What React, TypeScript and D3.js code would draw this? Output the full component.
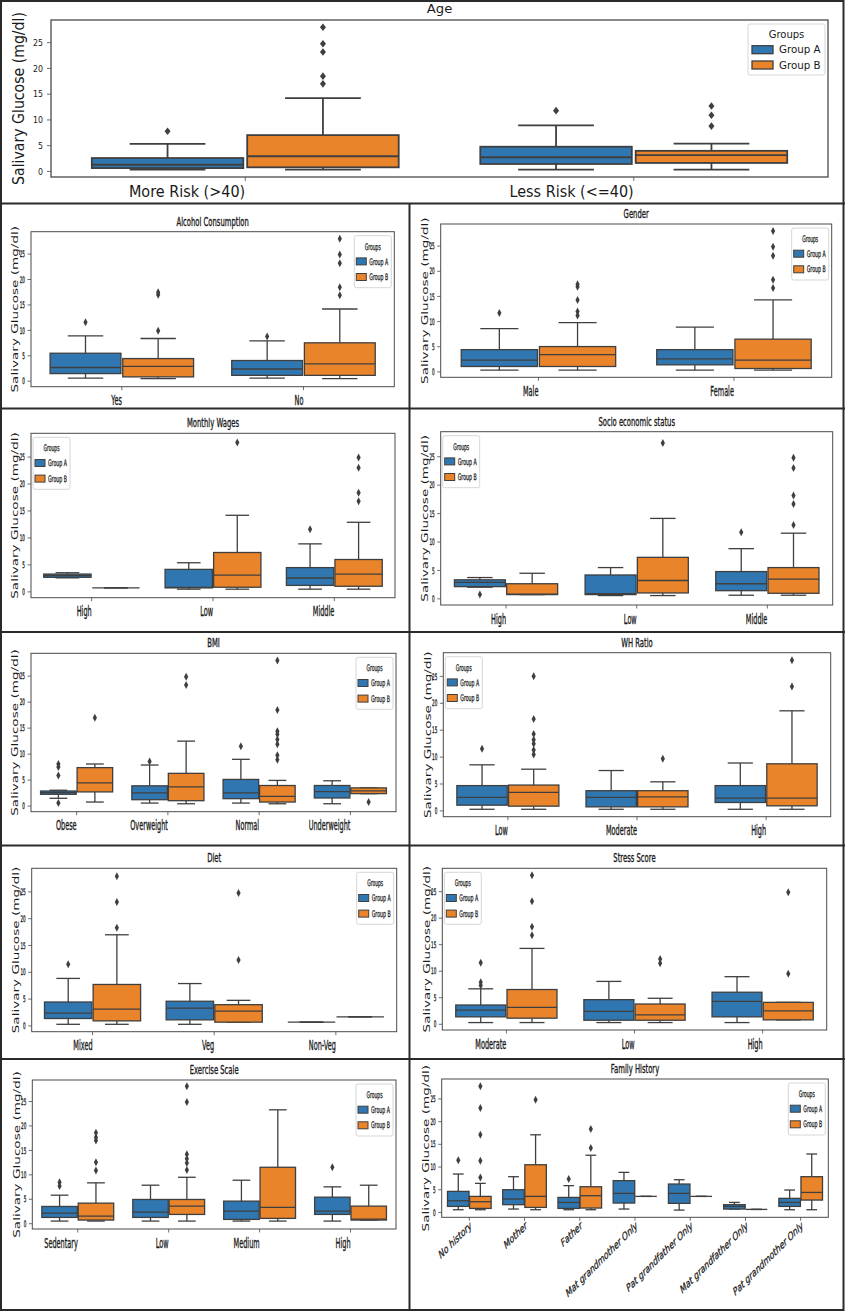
import React from "react";
import * as d3 from "d3";

type Stat = [number, number, number, number, number]; // lowWhisker, q1, median, q3, highWhisker

// ---------------- DATA ----------------
const groupNames = ["Group A", "Group B"];
const yTickValues = [0, 5, 10, 15, 20, 25];

const ageCategories = ["More Risk (>40)", "Less Risk (<=40)"];
const ageA: Stat[] = [[0.35, 0.65, 1.3, 2.6, 5.35], [0.35, 1.45, 2.75, 4.8, 8.95]];
const ageB: Stat[] = [[0.35, 0.8, 2.95, 7.05, 14.25], [0.35, 1.65, 3.15, 4.0, 5.4]];
const ageOutA = [[7.8], [11.8]];
const ageOutB = [[17.0, 18.5, 23.2, 24.8, 28.0], [8.8, 10.9, 12.7]];

const alcoholCategories = ["Yes", "No"];
const alcoholA: Stat[] = [[0.6, 1.5, 2.7, 5.5, 8.9], [0.6, 1.15, 2.4, 4.07, 7.95]];
const alcoholB: Stat[] = [[0.5, 0.85, 2.9, 4.45, 8.4], [0.5, 1.15, 3.4, 7.55, 14.2]];
const alcoholOutA = [[11.6], [8.8]];
const alcoholOutB = [[9.9, 17.0, 17.5], [16.9, 18.5, 23.2, 24.9, 28.0]];

const genderCategories = ["Male", "Female"];
const genderA: Stat[] = [[0.33, 1.07, 2.35, 4.42, 8.58], [0.33, 1.4, 2.6, 4.42, 8.9]];
const genderB: Stat[] = [[0.33, 1.07, 3.42, 5.03, 9.79], [0.33, 0.67, 2.35, 6.5, 14.3]];
const genderOutA = [[11.7], []];
const genderOutB = [[11.2, 12.0, 14.3, 16.9, 17.4], [16.7, 18.3, 23.1, 24.9, 28.0]];

const wagesCategories = ["High", "Low", "Middle"];
const wagesA: Stat[] = [[2.6, 2.7, 3.0, 3.3, 3.55], [0.5, 0.74, 0.85, 4.17, 5.4], [0.5, 1.2, 2.57, 4.5, 8.9]];
const wagesB: Stat[] = [[0.75, 0.75, 0.75, 0.75, 0.75], [0.5, 0.86, 3.1, 7.3, 14.2], [0.5, 1.04, 3.3, 6.0, 12.9]];
const wagesOutA = [[], [], [11.6]];
const wagesOutB = [[], [27.7], [16.8, 18.4, 23.0, 24.9]];

const socioCategories = ["High", "Low", "Middle"];
const socioA: Stat[] = [[2.05, 2.15, 2.89, 3.35, 3.75], [0.58, 0.75, 0.9, 4.2, 5.5], [0.64, 1.44, 2.66, 4.8, 8.83]];
const socioB: Stat[] = [[0.75, 0.75, 0.85, 2.66, 4.5], [0.58, 1.04, 3.23, 7.3, 14.15], [0.64, 0.98, 3.46, 5.5, 11.55]];
const socioOutA = [[0.75], [], [11.7]];
const socioOutB = [[], [27.4], [13.0, 16.7, 18.2, 23.0, 24.8]];

const bmiCategories = ["Obese", "Overweight", "Normal", "Underweight"];
const bmiA: Stat[] = [[1.5, 2.27, 2.6, 2.9, 3.05], [0.58, 1.23, 2.53, 3.9, 7.9], [0.58, 1.43, 2.53, 5.13, 9.0], [0.45, 1.56, 2.8, 3.96, 4.87]];
const bmiB: Stat[] = [[0.78, 2.73, 4.48, 7.4, 8.1], [0.45, 1.04, 3.7, 6.3, 12.5], [0.45, 0.78, 1.88, 3.96, 4.94], [2.4, 2.4, 2.92, 3.5, 3.5]];
const bmiOutA = [[0.6, 5.9, 7.5, 8.1], [8.6], [11.5], []];
const bmiOutB = [[17.0], [23.3, 24.9], [8.9, 9.8, 11.9, 12.8, 13.8, 14.4, 18.5, 28.0], [0.78]];

const whCategories = ["Low", "Moderate", "High"];
const whA: Stat[] = [[0.3, 1.06, 2.5, 4.7, 8.56], [0.3, 0.75, 2.5, 3.75, 7.5], [0.3, 1.56, 2.38, 4.7, 8.9]];
const whB: Stat[] = [[0.3, 0.88, 3.44, 4.8, 7.75], [0.3, 0.75, 2.6, 3.75, 5.4], [0.3, 0.94, 2.38, 8.75, 18.6]];
const whOutA = [[11.56], [], []];
const whOutB = [[10.5, 11.3, 12.5, 13.2, 14.3, 17.1, 25.0], [9.7], [23.1, 28.0]];

const dietCategories = ["Mixed", "Veg", "Non-Veg"];
const dietA: Stat[] = [[0.3, 1.38, 2.4, 4.46, 8.86], [0.3, 1.13, 3.33, 4.6, 7.9], [0.7, 0.7, 0.7, 0.7, 0.7]];
const dietB: Stat[] = [[0.3, 0.94, 3.14, 7.73, 17.0], [0.7, 0.7, 2.76, 3.96, 4.77], [1.7, 1.7, 1.7, 1.7, 1.7]];
const dietOutA = [[11.5], [], []];
const dietOutB = [[18.3, 23.1, 27.9], [12.3, 24.8], []];

const stressCategories = ["Moderate", "Low", "High"];
const stressA: Stat[] = [[0.32, 1.4, 2.67, 3.63, 6.68], [0.32, 0.76, 2.42, 4.64, 8.08], [0.32, 1.4, 4.33, 6.04, 8.97]];
const stressB: Stat[] = [[0.32, 1.15, 3.18, 6.55, 14.3], [0.32, 0.76, 1.78, 3.82, 4.9], [0.83, 0.83, 2.54, 4.13, 4.13]];
const stressOutA = [[7.3, 7.9, 11.6], [], []];
const stressOutB = [[16.8, 18.4, 23.2, 28.1], [11.5, 12.3], [9.54, 24.9]];

const exerciseCategories = ["Sedentary", "Low", "Medium", "High"];
const exerciseA: Stat[] = [[0.54, 1.29, 2.17, 3.53, 5.84], [0.54, 1.29, 2.38, 4.96, 7.88], [0.54, 0.88, 2.58, 4.62, 8.9], [0.54, 1.9, 2.58, 5.43, 7.54]];
const exerciseB: Stat[] = [[0.54, 0.75, 1.56, 4.21, 8.36], [0.54, 1.9, 3.6, 4.96, 9.5], [0.54, 1.09, 3.33, 11.55, 23.3], [0.75, 0.75, 0.95, 3.6, 7.88]];
const exerciseOutA = [[7.7, 8.5], [], [], [11.55]];
const exerciseOutB = [[10.9, 12.6, 17.0, 17.7, 18.6], [11.0, 12.4, 13.3, 14.2, 24.9, 28.1], [], []];

const familyCategories = ["No history", "Mother", "Father", "Mat grandmother Only", "Pat grandfather Only", "Mat grandfather Only", "Pat grandmother Only"];
const familyA: Stat[] = [[0.59, 1.32, 2.57, 4.63, 8.46], [0.74, 1.7, 2.94, 5.0, 7.87], [0.59, 0.88, 2.2, 3.3, 5.9], [0.74, 2.06, 4.2, 7.0, 8.82], [0.51, 1.99, 4.2, 6.25, 7.2], [0.74, 0.74, 1.32, 1.7, 2.2], [0.59, 1.32, 2.2, 3.1, 4.93]];
const familyB: Stat[] = [[0.59, 0.88, 2.35, 3.53, 6.4], [0.59, 1.1, 3.53, 10.5, 17.1], [0.59, 0.96, 3.68, 5.66, 12.6], [3.53, 3.53, 3.53, 3.53, 3.53], [3.53, 3.53, 3.53, 3.53, 3.53], [0.66, 0.66, 0.66, 0.66, 0.66], [0.59, 2.72, 4.4, 7.87, 12.87]];
const familyOutA = [[11.5], [], [7.35], [], [], [], []];
const familyOutB = [[7.7, 11.4, 17.1, 23.0, 27.8], [24.85], [14.2, 18.4], [], [], [], []];

// ---------------- STYLE / LAYOUT ----------------
const BLUE = "#3077b1";
const ORANGE = "#e9842b";
const EDGE = "#3f3f3f";
const TEXT = "#1a1a1a";
const Y_DOMAIN: [number, number] = [-1.08, 29.4];
const FONT = "'DejaVu Sans', 'Liberation Sans', sans-serif";

interface PanelSpec {
  title: string;
  categories: string[];
  a: Stat[];
  b: Stat[];
  outA: number[][];
  outB: number[][];
  frame: [number, number, number, number]; // left, top, right, bottom
  legend: "left" | "right";
  big?: boolean;
  rotated?: boolean;
}

const panels: PanelSpec[] = [
  { title: "Age", categories: ageCategories, a: ageA, b: ageB, outA: ageOutA, outB: ageOutB, frame: [51, 20, 828, 177], legend: "right", big: true },
  { title: "Alcohol Consumption", categories: alcoholCategories, a: alcoholA, b: alcoholB, outA: alcoholOutA, outB: alcoholOutB, frame: [31, 231.7, 394.3, 386.7], legend: "right" },
  { title: "Gender", categories: genderCategories, a: genderA, b: genderB, outA: genderOutA, outB: genderOutB, frame: [440.7, 224, 831.7, 377.3], legend: "right" },
  { title: "Monthly Wages", categories: wagesCategories, a: wagesA, b: wagesB, outA: wagesOutA, outB: wagesOutB, frame: [31, 433.3, 395, 597.7], legend: "left" },
  { title: "Socio economic status", categories: socioCategories, a: socioA, b: socioB, outA: socioOutA, outB: socioOutB, frame: [440.7, 431.7, 832.7, 605], legend: "left" },
  { title: "BMI", categories: bmiCategories, a: bmiA, b: bmiB, outA: bmiOutA, outB: bmiOutB, frame: [31, 653.3, 396, 811.7], legend: "right" },
  { title: "WH Ratio", categories: whCategories, a: whA, b: whB, outA: whOutA, outB: whOutB, frame: [443.3, 652.7, 830.7, 816.7], legend: "left" },
  { title: "Diet", categories: dietCategories, a: dietA, b: dietB, outA: dietOutA, outB: dietOutB, frame: [31.7, 868.3, 396.7, 1031.7], legend: "right" },
  { title: "Stress Score", categories: stressCategories, a: stressA, b: stressB, outA: stressOutA, outB: stressOutB, frame: [442.3, 868.3, 826.7, 1030], legend: "left" },
  { title: "Exercise Scale", categories: exerciseCategories, a: exerciseA, b: exerciseB, outA: exerciseOutA, outB: exerciseOutB, frame: [32.3, 1080, 396, 1229], legend: "right" },
  { title: "Family History", categories: familyCategories, a: familyA, b: familyB, outA: familyOutA, outB: familyOutB, frame: [441.7, 1079, 828.3, 1217.3], legend: "right", rotated: true },
];

interface STProps {
  x: number; y: number; sx?: number; sy?: number; rot?: number; size: number; preSx?: number;
  anchor?: "start" | "middle" | "end"; italic?: boolean; dy?: string; children: React.ReactNode; fill?: string; heavy?: number;
}
const ST = ({ x, y, sx = 1, sy = 1, rot = 0, preSx = 1, size, anchor = "middle", italic = false, dy, children, fill = TEXT, heavy = 0 }: STProps) => (
  <g transform={`translate(${x},${y}) scale(${preSx},1) rotate(${rot}) scale(${sx},${sy})`}>
    <text
      fontSize={size}
      textAnchor={anchor}
      dy={dy}
      fontStyle={italic ? "italic" : "normal"}
      fill={fill}
      stroke={heavy > 0 ? fill : "none"}
      strokeWidth={heavy}
    >
      {children}
    </text>
  </g>
);

const Panel = ({ p }: { p: PanelSpec }) => {
  const [l, t, r, b] = p.frame;
  const big = !!p.big;
  const x = d3.scaleBand<string>().domain(p.categories).range([l, r]).padding(0);
  const y = d3.scaleLinear().domain(Y_DOMAIN).range([b, t]);
  const bw = x.bandwidth();
  const boxW = bw * 0.39;
  const sw = big ? 1.8 : 1.3;
  const dw = big ? 3 : 2.1;
  const dh = big ? 3.8 : 4;

  const drawBox = (s: Stat, cx: number, fill: string, outs: number[], key: string) => {
    const [lo, q1, med, q3, hi] = s;
    const x0 = cx - boxW / 2;
    return (
      <g key={key}>
        <line x1={cx} x2={cx} y1={y(q1)} y2={y(lo)} stroke={EDGE} strokeWidth={sw} />
        <line x1={cx} x2={cx} y1={y(q3)} y2={y(hi)} stroke={EDGE} strokeWidth={sw} />
        <line x1={cx - boxW / 4} x2={cx + boxW / 4} y1={y(lo)} y2={y(lo)} stroke={EDGE} strokeWidth={sw} />
        <line x1={cx - boxW / 4} x2={cx + boxW / 4} y1={y(hi)} y2={y(hi)} stroke={EDGE} strokeWidth={sw} />
        <rect x={x0} y={y(q3)} width={boxW} height={Math.max(0, y(q1) - y(q3))} fill={fill} stroke={EDGE} strokeWidth={sw} />
        <line x1={x0} x2={x0 + boxW} y1={y(med)} y2={y(med)} stroke={EDGE} strokeWidth={sw} />
        {outs.map((v, i) => (
          <path key={i} d={`M${cx},${y(v) - dh}L${cx + dw},${y(v)}L${cx},${y(v) + dh}L${cx - dw},${y(v)}Z`} fill={EDGE} />
        ))}
      </g>
    );
  };

  // text specs
  const title = big ? { size: 11.5, sx: 1.15, dyb: -7, heavy: 0 } : { size: 12, sx: 0.57, dyb: -6, heavy: 0.35 };
  const xl = big ? { size: 16, sx: 0.9, off: 20, heavy: 0 } : { size: 14.5, sx: 0.45, off: 18.5, heavy: 0.4 };
  const yt = big ? { size: 8.8, sx: 0.89, off: 8, heavy: 0 } : { size: 9, sx: 0.46, off: 6, heavy: 0.35 };
  const yl = big ? { size: 15, stretch: 0.94, off: 32 } : { size: 9.5, stretch: 1.43, off: 16 };
  const lg = big
    ? { w: 77, h: 51, ts: 10, tsx: 1, es: 10, esx: 1.03, pw: 21, ph: 8, px: 4, tx: 31, ty: [10, 25.7, 41], heavy: 0 }
    : { w: 37, h: 52, ts: 9, tsx: 0.5, es: 9, esx: 0.52, pw: 10, ph: 7, px: 2, tx: 15, ty: [10.7, 25.7, 41.3], heavy: 0.3 };
  const lgx = p.legend === "right" ? r - 3 - lg.w : l + 2;
  const lgy = t + 4;
  const tickLen = big ? 4 : 3.5;

  return (
    <g>
      {/* frame */}
      <rect x={l} y={t} width={r - l} height={b - t} fill="none" stroke="#4a4a4a" strokeWidth={big ? 1.3 : 1} />
      {/* y ticks */}
      {yTickValues.map((v) => (
        <g key={v}>
          <line x1={l - tickLen} x2={l} y1={y(v)} y2={y(v)} stroke="#4a4a4a" strokeWidth={0.8} />
          <ST x={l - yt.off} y={y(v)} size={yt.size} sx={yt.sx} anchor="end" dy="0.35em" heavy={yt.heavy}>{v}</ST>
        </g>
      ))}
      {/* x ticks and labels */}
      {p.categories.map((c) => {
        const cx = (x(c) as number) + bw / 2;
        return (
          <g key={c}>
            <line x1={cx} x2={cx} y1={b} y2={b + tickLen} stroke="#4a4a4a" strokeWidth={0.8} />
            {p.rotated ? (
              <ST x={cx + 3.2} y={b + 10} preSx={0.7} rot={-35} size={10.8} italic anchor="end" heavy={0.3}>{c}</ST>
            ) : (
              <ST x={cx} y={b + xl.off} size={xl.size} sx={xl.sx} anchor="end" heavy={xl.heavy}>{c}</ST>
            )}
          </g>
        );
      })}
      {/* boxes */}
      {p.categories.map((c, i) => {
        const cx = (x(c) as number) + bw / 2;
        return (
          <g key={c}>
            {drawBox(p.a[i], cx - bw * 0.2, BLUE, p.outA[i], "a")}
            {drawBox(p.b[i], cx + bw * 0.2, ORANGE, p.outB[i], "b")}
          </g>
        );
      })}
      {/* title */}
      <ST x={(l + r) / 2} y={t + title.dyb} size={title.size} sx={title.sx} heavy={title.heavy}>{p.title}</ST>
      {/* y label */}
      <ST x={l - yl.off} y={(t + b) / 2} rot={-90} sx={yl.stretch} size={yl.size} dy="0.35em">Salivary Glucose (mg/dl)</ST>
      {/* legend */}
      <g>
        <rect x={lgx} y={lgy} width={lg.w} height={lg.h} rx={2} fill="#fff" fillOpacity={0.85} stroke="#cccccc" strokeWidth={0.8} />
        <ST x={lgx + lg.w / 2} y={lgy + lg.ty[0]} size={lg.ts} sx={lg.tsx} dy="0.35em" heavy={lg.heavy}>Groups</ST>
        {groupNames.map((g, i) => (
          <g key={g}>
            <rect x={lgx + lg.px} y={lgy + lg.ty[i + 1] - lg.ph / 2} width={lg.pw} height={lg.ph} fill={i === 0 ? BLUE : ORANGE} stroke={EDGE} strokeWidth={big ? 1.3 : 1} />
            <ST x={lgx + lg.tx} y={lgy + lg.ty[i + 1]} size={lg.es} sx={lg.esx} anchor="start" dy="0.35em" heavy={lg.heavy}>{g}</ST>
          </g>
        ))}
      </g>
    </g>
  );
};

export default function App() {
  return (
    <svg
      width={845}
      height={1312}
      style={{ position: "absolute", left: 0, top: 0, background: "#fff" }}
      fontFamily={FONT}
    >
      <rect x={0} y={0} width={845} height={1312} fill="#fff" />
      {panels.map((p) => (
        <Panel key={p.title} p={p} />
      ))}
      {/* separators */}
      <g stroke="#2a2a2a" strokeWidth={2} fill="none">
        <rect x={1} y={1} width={842.5} height={1309} />
        <line x1={0} x2={845} y1={203.5} y2={203.5} />
        <line x1={0} x2={845} y1={408.5} y2={408.5} />
        <line x1={0} x2={845} y1={632} y2={632} />
        <line x1={0} x2={845} y1={845.5} y2={845.5} />
        <line x1={0} x2={845} y1={1059} y2={1059} />
        <line x1={409.5} x2={409.5} y1={203.5} y2={1310} />
      </g>
    </svg>
  );
}
